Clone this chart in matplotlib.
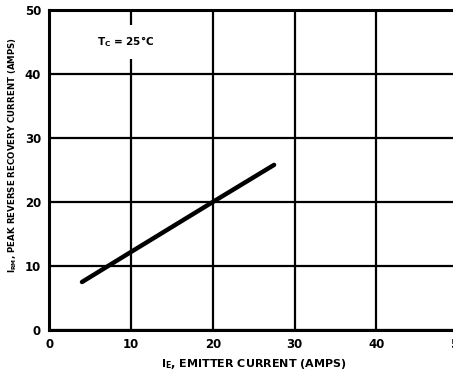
import matplotlib
matplotlib.use("Agg")
import matplotlib.pyplot as plt

# Data
emitter_current = [4.0, 10.0, 20.0, 27.5]
recovery_current = [7.5, 12.2, 20.0, 25.8]
x_ticks = [0, 10, 20, 30, 40, 50]
y_ticks = [0, 10, 20, 30, 40, 50]

FONT = ['Liberation Sans Narrow', 'DejaVu Sans']
plt.rcParams['font.family'] = FONT
plt.rcParams['font.weight'] = 'bold'
plt.rcParams['mathtext.fontset'] = 'custom'
plt.rcParams['mathtext.rm'] = 'Liberation Sans Narrow:bold'
plt.rcParams['mathtext.bf'] = 'Liberation Sans Narrow:bold'
plt.rcParams['mathtext.it'] = 'Liberation Sans Narrow:bold'

fig = plt.figure(figsize=(4.53, 3.77), dpi=100)
ax = fig.add_axes([49.3 / 453, 47 / 377, (458 - 49.3) / 453, 320 / 377])

ax.set_xlim(0, 50)
ax.set_ylim(0, 50)
ax.set_xticks(x_ticks)
ax.set_yticks(y_ticks)
ax.set_xticklabels([str(v) for v in x_ticks])
ax.set_yticklabels([str(v) for v in y_ticks])
ax.tick_params(length=0, labelsize=8.5, pad=6)
for lbl in ax.get_xticklabels() + ax.get_yticklabels():
    lbl.set_fontweight('bold')

ax.grid(True, color='black', linewidth=1.6)
ax.set_axisbelow(True)
for s in ax.spines.values():
    s.set_linewidth(2.2)
    s.set_color('black')

ax.plot(emitter_current, recovery_current, color='black', linewidth=3.2,
        solid_capstyle='round', zorder=3)

ax.text(9.4, 45.0, r'T$_{\mathrm{C}}$ = 25°C', fontsize=7.5, fontweight='bold',
        ha='center', va='center', zorder=4,
        bbox=dict(boxstyle='square,pad=0.9', facecolor='white', edgecolor='none'))

ax.set_xlabel(r'I$_{\mathrm{E}}$, EMITTER CURRENT (AMPS)', fontsize=8,
              fontweight='bold', labelpad=4)
ax.set_ylabel(r'I$_{\mathrm{RM}}$, PEAK REVERSE RECOVERY CURRENT (AMPS)',
              fontsize=6.2, fontweight='bold')
ax.yaxis.set_label_coords(-0.074, 0.547)

fig.savefig('out.png', dpi=100)
